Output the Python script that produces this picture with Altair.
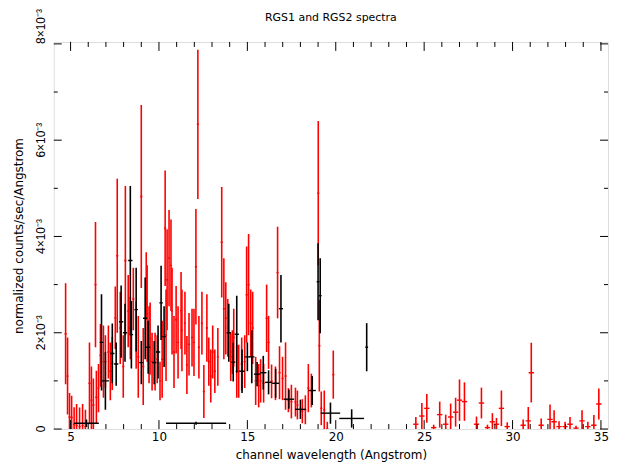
import altair as alt
import pandas as pd

# RGS2 (red): wavelength, value (1e-3), y error, x half-width
red_x = [4.72, 4.83, 4.94, 5.06, 5.20, 5.34, 5.51, 5.68, 5.84, 6.07, 6.18, 6.29, 6.41, 6.46, 6.58,
         6.69, 6.86, 6.97, 7.14, 7.25, 7.36, 7.53, 7.64, 7.81, 7.98, 8.10, 8.26, 8.38, 8.55, 8.71,
         8.83, 9.00, 9.11, 9.28, 9.33, 9.44, 9.50, 9.61, 9.78, 9.90, 10.06, 10.18, 10.35, 10.40, 10.46,
         10.57, 10.68, 10.74, 10.85, 10.97, 11.08, 11.25, 11.30, 11.47, 11.58, 11.70, 11.87, 11.98, 12.09, 12.20,
         12.26, 12.43, 12.54, 12.71, 12.82, 12.93, 13.04, 13.16, 13.33, 13.55, 13.67, 13.78, 13.89, 14.06, 14.15,
         14.23, 14.40, 14.51, 14.68, 14.85, 14.96, 15.07, 15.19, 15.30, 15.47, 15.64, 15.75, 15.92, 16.09, 16.20,
         16.37, 16.59, 16.71, 16.82, 16.99, 17.16, 17.32, 17.49, 17.72, 17.83, 18.11, 18.28, 18.45, 18.62, 19.01,
         19.07, 19.18, 19.35, 19.52, 19.86,
         24.53, 24.87, 25.15, 25.54, 25.88, 26.22, 26.50, 26.78, 27.00, 27.28, 27.96, 28.24, 28.58, 28.86, 29.09,
         29.37, 29.70, 30.60, 30.89, 31.06, 31.62, 32.12, 32.35, 32.63, 32.97, 33.25, 33.59, 33.93, 34.26, 34.60,
         34.88]
red_y = [1.98, 1.10, 0.25, 0.24, 0.10, 0.07, 0.05, 0.07, 0.05, 0.95, 0.60, 0.50, 3.00, 0.66, 0.85,
         1.53, 1.40, 1.40, 1.60, 1.20, 1.36, 2.31, 3.60, 2.10, 1.30, 3.50, 2.45, 2.10, 2.70, 1.95,
         1.50, 4.83, 1.30, 2.97, 2.40, 1.75, 1.88, 1.40, 1.40, 1.45, 1.00, 1.45, 4.17, 1.95, 3.10,
         3.55, 3.40, 2.45, 1.60, 2.27, 1.80, 2.46, 2.05, 2.20, 1.33, 1.76, 1.90, 1.80, 3.37, 6.33,
         1.70, 2.20, 0.78, 2.10, 1.40, 1.10, 1.60, 1.20, 1.50, 3.88, 2.50, 2.30, 2.10, 1.50, 1.60,
         1.90, 1.20, 1.20, 1.35, 1.40, 2.79, 3.00, 2.20, 2.10, 1.00, 0.90, 1.00, 0.95, 2.30, 1.80,
         0.99, 0.95, 3.25, 1.17, 1.05, 1.10, 0.60, 0.57, 0.56, 0.50, 0.37, 0.40, 0.85, 0.80, 4.90,
         1.73, 0.43, 0.40, 0.00, 1.13,
         0.10, 0.27, 0.43, 0.03, 0.30, 0.10, 0.25, 0.35, 0.60, 0.57, 0.10, 0.54, 0.03, 0.15, 0.10,
         0.43, 0.05, 0.08, 0.17, 1.17, 0.08, 0.20, 0.15, 0.05, 0.05, 0.10, 0.02, 0.17, 0.05, 0.08,
         0.52]
red_err = [1.05, 0.80, 0.50, 0.45, 0.35, 0.45, 0.40, 0.45, 0.35, 0.85, 0.70, 0.55, 1.30, 0.55, 0.50,
           0.65, 0.75, 0.55, 0.55, 0.60, 0.55, 0.65, 1.60, 0.75, 0.65, 1.55, 0.75, 0.65, 0.65, 0.70,
           0.85, 1.90, 0.80, 0.70, 1.00, 0.80, 0.75, 0.60, 0.60, 0.50, 0.40, 0.80, 1.20, 0.95, 1.05,
           1.00, 0.95, 0.90, 0.75, 0.70, 0.75, 0.80, 0.85, 0.65, 0.60, 0.65, 0.60, 0.70, 1.20, 1.55,
           0.65, 0.65, 0.55, 0.70, 0.50, 0.55, 0.55, 0.45, 0.60, 1.15, 1.05, 0.75, 0.60, 0.50, 0.45,
           0.60, 0.55, 0.55, 0.55, 0.55, 1.00, 1.05, 0.70, 0.75, 0.50, 0.45, 0.45, 0.40, 0.70, 0.55,
           0.35, 0.35, 0.95, 0.55, 0.45, 0.70, 0.25, 0.35, 0.30, 0.30, 0.25, 0.30, 0.50, 0.35, 1.50,
           0.95, 0.35, 0.40, 0.15, 0.50,
           0.15, 0.27, 0.30, 0.06, 0.27, 0.20, 0.28, 0.30, 0.43, 0.40, 0.16, 0.32, 0.06, 0.18, 0.13,
           0.37, 0.09, 0.12, 0.29, 0.62, 0.14, 0.31, 0.24, 0.11, 0.10, 0.15, 0.05, 0.22, 0.10, 0.21,
           0.32]
red_hw = [0.06] * 110 + [0.15] * 31

# RGS1 (black)
blk_x = [5.90, 6.75, 6.97, 7.36, 7.58, 7.86, 8.08, 8.38, 8.44, 8.71, 9.00, 9.22, 9.39, 9.73, 9.95,
         10.12, 10.29, 12.10, 13.95, 14.20, 14.40, 14.70, 15.00, 15.25, 15.55, 15.90, 16.20, 16.60, 16.90, 17.35,
         18.00, 18.67, 19.00, 19.12, 19.70, 20.90, 21.75]
blk_y = [0.12, 1.80, 1.00, 1.57, 1.35, 2.23, 2.00, 3.50, 1.96, 2.48, 1.38, 2.30, 1.70, 1.38, 1.60,
         2.62, 1.92, 0.12, 2.00, 1.39, 1.97, 1.20, 1.50, 1.50, 1.14, 1.17, 0.97, 0.95, 2.50, 0.62,
         0.41, 0.80, 3.06, 2.77, 0.33, 0.22, 1.70]
blk_err = [0.08, 1.00, 0.60, 0.62, 0.45, 0.75, 0.60, 1.55, 0.70, 0.87, 0.45, 0.85, 0.55, 0.45, 0.55,
           0.77, 0.63, 0.03, 0.60, 0.40, 0.80, 0.45, 0.30, 0.55, 0.25, 0.35, 0.25, 0.30, 0.70, 0.20,
           0.20, 0.30, 0.80, 0.78, 0.22, 0.19, 0.50]
blk_hw = [0.70, 0.10, 0.20, 0.12, 0.12, 0.12, 0.12, 0.12, 0.10, 0.10, 0.12, 0.12, 0.12, 0.12, 0.12,
          0.10, 0.10, 1.70, 0.12, 0.12, 0.12, 0.15, 0.15, 0.15, 0.18, 0.18, 0.20, 0.20, 0.12, 0.30,
          0.30, 0.20, 0.08, 0.08, 0.55, 0.70, 0.08]

x_major = [5, 10, 15, 20, 25, 30, 35]
x_minor = [6, 7, 8, 9, 11, 12, 13, 14, 16, 17, 18, 19, 21, 22, 23, 24, 26, 27, 28, 29, 31, 32, 33, 34]
y_major = [0, 2, 4, 6, 8]
y_minor = [1, 3, 5, 7]
y_labels = ["0", "2×10⁻³", "4×10⁻³", "6×10⁻³", "8×10⁻³"]

TITLE = "RGS1 and RGS2 spectra"
XT = "channel wavelength (Angstrom)"
YT = "normalized counts/sec/Angstrom"

W, H = 557, 389
XDOM = [4.05, 35.4]
YDOM = [0, 8.04]
FONT = "DejaVu Sans"
LFONT = "Liberation Sans"


def table(xs, ys, es, hws):
    df = pd.DataFrame({"x": xs, "y": ys, "e": es, "hw": hws})
    df["ylo"] = df["y"] - df["e"]
    df["yhi"] = df["y"] + df["e"]
    df["xlo"] = df["x"] - df["hw"]
    df["xhi"] = df["x"] + df["hw"]
    return df


red = table(red_x, red_y, red_err, red_hw)
blk = table(blk_x, blk_y, blk_err, blk_hw)

xs = alt.Scale(domain=XDOM, nice=False, zero=False)
ys = alt.Scale(domain=YDOM, nice=False, zero=False)

x_axis = alt.Axis(values=x_major, tickSize=0, domain=False, grid=False, labelFontSize=12,
                  labelPadding=3, labelFont=FONT, labelColor="black",
                  title=XT, titleFont=FONT, titleFontSize=12,
                  titleFontWeight="normal", titleColor="black", titlePadding=7)
y_axis = alt.Axis(values=y_major, tickSize=0, domain=False, grid=False, labels=False,
                  title=YT, titleFont=FONT, titleFontSize=12,
                  titleFontWeight="normal", titleColor="black", titlePadding=28)


def X(f):
    return alt.X(f, scale=xs, axis=x_axis, title=XT)


def Y(f):
    return alt.Y(f, scale=ys, axis=y_axis, title=YT)


def vbars(df, color):
    return alt.Chart(df).mark_rule(color=color, strokeWidth=1.6, clip=True).encode(
        x=X("x:Q"), y=Y("ylo:Q"), y2="yhi:Q",
    )


def hbars(df, color):
    return alt.Chart(df).mark_rule(color=color, strokeWidth=1.4, clip=True).encode(
        x=X("xlo:Q"), x2="xhi:Q", y=Y("y:Q"),
    )


def xticks(vals, length):
    d = pd.DataFrame({"v": vals})
    base = alt.Chart(d).mark_rule(color="black", strokeWidth=1)
    bottom = base.encode(x=X("v:Q"), y=alt.value(H), y2=alt.value(H - length))
    top = base.encode(x=X("v:Q"), y=alt.value(0), y2=alt.value(length))
    return [bottom, top]


def yticks(vals, length):
    d = pd.DataFrame({"v": vals})
    base = alt.Chart(d).mark_rule(color="black", strokeWidth=1)
    left = base.encode(y=Y("v:Q"), x=alt.value(0), x2=alt.value(length))
    right = base.encode(y=Y("v:Q"), x=alt.value(W), x2=alt.value(W - length))
    return [left, right]


lab = pd.DataFrame({"v": y_major, "t": y_labels})
ylab_low = alt.Chart(lab).transform_filter(f"datum.v < {max(y_major)}").mark_text(
    angle=270, align="center", baseline="bottom", font=LFONT, fontSize=12, color="black"
).encode(y=Y("v:Q"), x=alt.value(-6), text="t:N")
ylab_top = alt.Chart(lab).transform_filter(f"datum.v >= {max(y_major)}").mark_text(
    angle=270, align="left", baseline="bottom", font=LFONT, fontSize=12, color="black"
).encode(y=Y("v:Q"), x=alt.value(-6), text="t:N")

title = alt.Chart(pd.DataFrame({"t": [TITLE]})).mark_text(
    font=FONT, fontSize=11, color="black", baseline="middle", align="center"
).encode(x=alt.value(W / 2), y=alt.value(-24), text="t:N")

layers = [vbars(red, "#ff0000"), hbars(red, "#ff0000"),
          vbars(blk, "black"), hbars(blk, "black")]
layers += xticks(x_major, 9) + xticks(x_minor, 5) + yticks(y_major, 8) + yticks(y_minor, 4)
layers += [ylab_low, ylab_top, title]

chart = alt.layer(*layers).properties(
    width=W, height=H,
    autosize=alt.AutoSizeParams(type="none"),
    padding={"left": 46, "top": 33, "right": 3, "bottom": 34},
).configure_view(stroke="black", strokeWidth=1.2).configure(background="white")

chart.save("out.html", embed_options={"renderer": "svg", "actions": False})
